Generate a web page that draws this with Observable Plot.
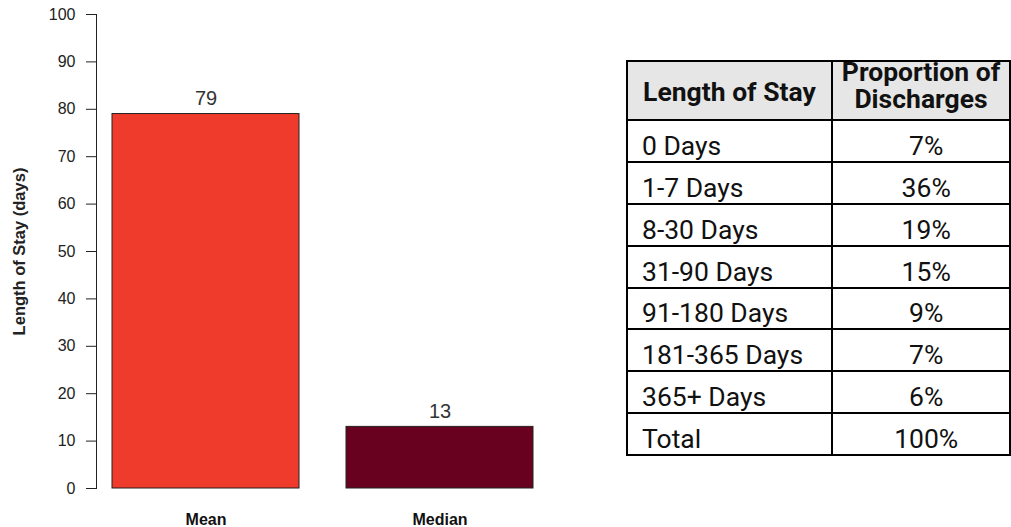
<!DOCTYPE html>
<html>
<head>
<meta charset="utf-8">
<script src="https://cdn.jsdelivr.net/npm/d3@7"></script>
<script src="https://cdn.jsdelivr.net/npm/@observablehq/plot@0.6"></script>
<style>
  html, body { margin: 0; padding: 0; background: #fff; }
  #wrap { position: relative; width: 1011px; height: 527px; overflow: hidden; background: #fff; }
  #chart { position: absolute; left: 0; top: 0; }
  #stays {
    position: absolute; left: 626px; top: 60px;
    border-collapse: separate; border-spacing: 0; table-layout: fixed;
    border-top: 2px solid #000; border-left: 2px solid #000;
    font-family: Roboto, "Noto Sans", sans-serif; font-size: 25px; color: #111;
  }
  #stays th, #stays td {
    border-right: 2px solid #000; border-bottom: 2px solid #000;
    box-sizing: border-box; padding: 0; white-space: nowrap;
  }
  #stays th {
    background: #e6e6e6; font-weight: 700; height: 59px;
    line-height: 26.7px; text-align: center; white-space: normal;
  }
  #stays th.c1 { vertical-align: middle; padding-top: 6px; }
  #stays th.c2 { vertical-align: top; }
  #stays th.c2 span { position: relative; top: -2px; }
  #stays td { height: 41.9px; vertical-align: bottom; padding-bottom: 0; font-weight: 400; }
  #stays .c1 { width: 205px; }
  #stays .c2 { width: 178px; }
  #stays td.c1 { text-align: left; padding-left: 14px; }
  #stays td.c2 { text-align: center; padding-left: 10px; }
  /* slightly wide lettering */
  #stays span { display: inline-block; transform: scaleX(1.06); }
  #stays .c1 span { transform-origin: left center; }
  #stays .c2 span, #stays th.c1 span { transform-origin: center center; }
</style>
</head>
<body>
<div id="wrap">
  <div id="chart"></div>
  <table id="stays"></table>
</div>
<script>
// Summary statistics of length of stay (days)
const statistics = ["Mean", "Median"];
const statValues = [79, 13];
const statColors = ["#EF3B2C", "#68001F"];
const yTicks = [0, 10, 20, 30, 40, 50, 60, 70, 80, 90, 100];
const yTitle = "Length of Stay (days)";

// Distribution of discharges by length of stay
const tableHeaders = ["Length of Stay", "Proportion of Discharges"];
const stayBins = ["0 Days", "1-7 Days", "8-30 Days", "31-90 Days", "91-180 Days", "181-365 Days", "365+ Days"];
const stayShares = [7, 36, 19, 15, 9, 7, 6];
const totalLabel = "Total";
const totalShare = 100;

const bars = statistics.map((stat, i) => ({stat, value: statValues[i]}));

const chart = Plot.plot({
  width: 560,
  height: 527,
  marginTop: 14,
  marginBottom: 39,
  marginLeft: 96,
  marginRight: 10,
  style: {
    fontFamily: '"Liberation Sans", Arial, sans-serif',
    fontSize: "16px",
    color: "#222",
    background: "#fff",
    overflow: "visible"
  },
  x: {domain: statistics, paddingInner: 0.2, paddingOuter: 0.067, align: 0.5},
  y: {domain: [0, 100]},
  color: {domain: statistics, range: statColors},
  marks: [
    Plot.barY(bars, {x: "stat", y: "value", fill: "stat", stroke: "#222", strokeWidth: 1}),
    Plot.text(bars, {
      x: "stat", y: "value", text: (d) => String(d.value),
      lineAnchor: "bottom", dy: -9, fontSize: 20, fill: "#333"
    }),
    Plot.axisY({
      ticks: yTicks, tickSize: 10, tickPadding: 11, fontSize: 16,
      stroke: "#222", fill: "#222", label: null
    }),
    Plot.frame({anchor: "left", stroke: "#222"}),
    Plot.text([yTitle], {
      frameAnchor: "left", textAnchor: "middle", rotate: -90, dx: -77,
      fontSize: 16.5, fontWeight: "bold", fill: "#222"
    }),
    Plot.axisX({tickSize: 0, tickPadding: 25, fontSize: 16, fontWeight: "bold", fill: "#111", label: null})
  ]
});
document.getElementById("chart").append(chart);

// Discharge table
const table = d3.select("#stays");
table.append("thead").append("tr")
  .selectAll("th").data(tableHeaders).join("th")
  .attr("class", (d, i) => (i === 0 ? "c1" : "c2"))
  .append("span").text((d) => d);
const rows = stayBins.map((bin, i) => [bin, `${stayShares[i]}%`]);
rows.push([totalLabel, `${totalShare}%`]);
table.append("tbody").selectAll("tr").data(rows).join("tr")
  .selectAll("td").data((r) => r).join("td")
  .attr("class", (d, i) => (i === 0 ? "c1" : "c2"))
  .append("span").text((d) => d);
</script>
</body>
</html>
